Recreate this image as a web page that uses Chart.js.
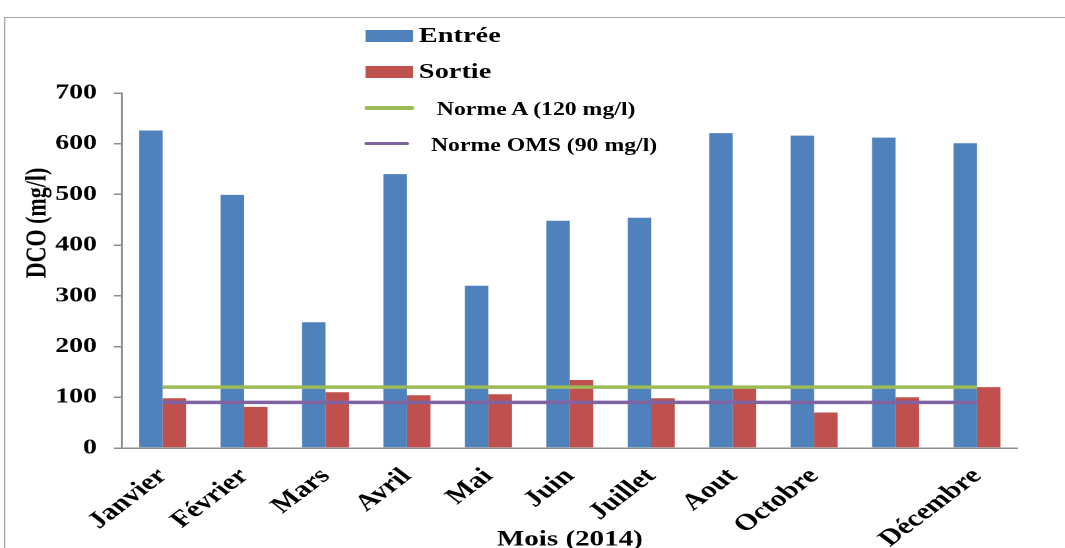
<!DOCTYPE html>
<html>
<head>
<meta charset="utf-8">
<script src="https://cdn.jsdelivr.net/npm/chart.js@4.4.1/dist/chart.umd.min.js"></script>
<style>
  html, body { margin: 0; padding: 0; background: #fff; overflow: hidden; width: 1065px; height: 548px; }
  /* the whole figure is drawn narrow and widened horizontally */
  #stage { position: absolute; left: 0; top: 0; width: 807px; height: 548px; transform: scaleX(1.3197); transform-origin: 0 0; }
  #frame { position: absolute; left: 3px; top: 17px; width: 900px; height: 600px; border-top: 1.5px solid #a6a6a6; border-left: 1.5px solid #a6a6a6; }
  #c { position: absolute; left: 0; top: 0; }
  .lg-text { position: absolute; font-family: 'Liberation Serif', 'Times New Roman', serif; font-weight: bold; color: #000; white-space: nowrap; line-height: 1; transform: translateY(-50%); }
  .lg-swatch { position: absolute; }
</style>
</head>
<body>
<div id="stage">
  <div id="frame"></div>
  <canvas id="c" width="807" height="548"></canvas>
  <div id="legend"></div>
</div>
<script>
// DCO measurements per month, 2014 (mg/l)
const months   = ['Janvier', 'Février', 'Mars', 'Avril', 'Mai', 'Juin', 'Juillet', 'Aout', 'Octobre', '', 'Décembre'];
const entree   = [626, 499, 248, 540, 320, 448, 454, 621, 616, 612, 601];
const sortie   = [98, 81, 110, 104, 106, 134, 98, 117, 70, 100, 120];
const normeA   = [120, 120, 120, 120, 120, 120, 120, 120, 120, 120, 120];
const normeOMS = [90, 90, 90, 90, 90, 90, 90, 90, 90, 90, 90];
const yTicks   = [0, 100, 200, 300, 400, 500, 600, 700];

const xTitle = 'Mois (2014)';
const yTitle = 'DCO (mg/l)';

const FONT = "'Liberation Serif', 'Times New Roman', serif";
const AXIS_GREY = '#8c8c8c';

// vertical axis title, placed a little above the middle of the plot
const yTitlePlugin = {
  id: 'yTitle',
  afterDraw(chart) {
    const ctx = chart.ctx;
    ctx.save();
    ctx.translate(28.8, 223);
    ctx.rotate(-Math.PI / 2);
    ctx.font = 'bold 22px ' + FONT;
    ctx.fillStyle = '#000';
    ctx.textAlign = 'center';
    ctx.textBaseline = 'middle';
    ctx.fillText(yTitle, 0, 0);
    ctx.restore();
  }
};

const chart = new Chart(document.getElementById('c'), {
  data: {
    labels: months,
    datasets: [
      { type: 'line', label: 'Norme A (120 mg/l)', data: normeA, borderColor: '#9BBB59', backgroundColor: '#9BBB59',
        borderWidth: 3.5, pointRadius: 0, fill: false, order: 0 },
      { type: 'line', label: 'Norme OMS (90 mg/l)', data: normeOMS, borderColor: '#8064A2', backgroundColor: '#8064A2',
        borderWidth: 3.5, pointRadius: 0, fill: false, order: 0 },
      { type: 'bar', label: 'Entrée', data: entree, backgroundColor: '#4F81BD', order: 1 },
      { type: 'bar', label: 'Sortie', data: sortie, backgroundColor: '#C0504D', order: 1 }
    ]
  },
  options: {
    responsive: false,
    devicePixelRatio: 2,
    animation: false,
    events: [],
    layout: { padding: { top: 93, right: 35.8, left: 0, bottom: 0 } },
    datasets: { bar: { barPercentage: 1, categoryPercentage: 0.577 } },
    plugins: { legend: { display: false }, tooltip: { enabled: false } },
    scales: {
      x: {
        offset: true,
        grid: { display: false },
        border: { display: true, color: AXIS_GREY, width: 1.5 },
        ticks: { autoSkip: false, minRotation: 45, maxRotation: 45, color: '#000', padding: 7,
                 font: { family: FONT, weight: 'bold', size: 23 } },
        title: { display: true, text: xTitle, color: '#000', padding: { top: 0, bottom: -5 },
                 font: { family: FONT, weight: 'bold', size: 22 } },
        afterFit(s) { s.height = 100; }
      },
      y: {
        min: yTicks[0],
        max: yTicks[yTicks.length - 1],
        afterBuildTicks(s) { s.ticks = yTicks.map(v => ({ value: v })); },
        grid: { drawOnChartArea: false, drawTicks: true, tickLength: 6, color: AXIS_GREY, lineWidth: 1.5 },
        border: { display: true, color: AXIS_GREY, width: 1.5 },
        ticks: { color: '#000', padding: 13, font: { family: FONT, weight: 'bold', size: 21 } },
        afterFit(s) { s.width = 92.4; }
      }
    }
  },
  plugins: [yTitlePlugin]
});

// legend built from the datasets: bars as filled boxes, norms as line strokes
const legendLayout = [
  { index: 2, swatch: { left: 276.5, top: 30, width: 36.4, height: 12 }, text: { left: 317.4, top: 36, size: 21.5 } },
  { index: 3, swatch: { left: 276.5, top: 66, width: 36.4, height: 12 }, text: { left: 317.4, top: 72, size: 21.5 } },
  { index: 0, swatch: { left: 275.8, top: 106, width: 38.6, height: 3.5, round: true }, text: { left: 331, top: 108.5, size: 18 } },
  { index: 1, swatch: { left: 275.8, top: 141.5, width: 34, height: 3.5, round: true }, text: { left: 326.5, top: 145, size: 18 } }
];
const legendEl = document.getElementById('legend');
legendLayout.forEach(item => {
  const ds = chart.data.datasets[item.index];
  const sw = document.createElement('div');
  sw.className = 'lg-swatch';
  Object.assign(sw.style, {
    left: item.swatch.left + 'px', top: item.swatch.top + 'px',
    width: item.swatch.width + 'px', height: item.swatch.height + 'px',
    background: ds.backgroundColor, borderRadius: item.swatch.round ? '2px' : '0'
  });
  const tx = document.createElement('div');
  tx.className = 'lg-text';
  tx.textContent = ds.label;
  Object.assign(tx.style, { left: item.text.left + 'px', top: item.text.top + 'px', fontSize: item.text.size + 'px' });
  legendEl.appendChild(sw);
  legendEl.appendChild(tx);
});
</script>
</body>
</html>
